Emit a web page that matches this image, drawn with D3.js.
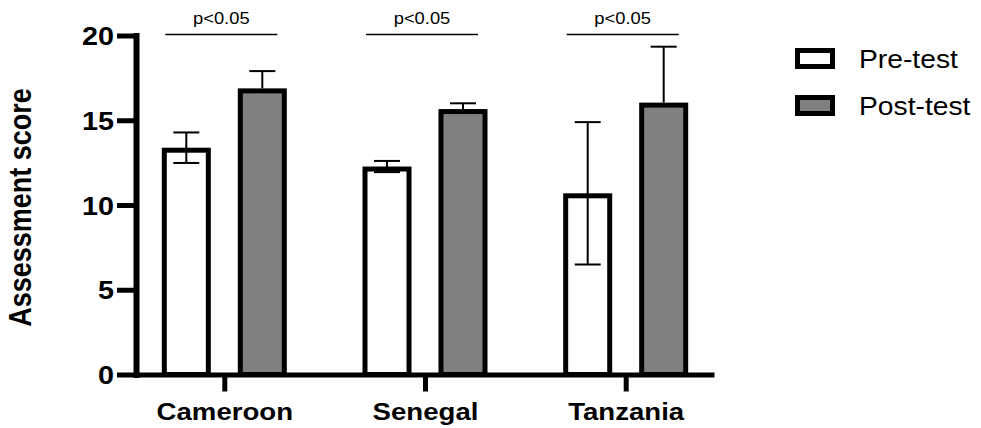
<!DOCTYPE html>
<html>
<head>
<meta charset="utf-8">
<script src="https://d3js.org/d3.v7.min.js"></script>
<style>
  body { margin: 0; background: #fff; }
  svg { display: block; font-family: "Liberation Sans", Arial, sans-serif; }
</style>
</head>
<body>
<div id="chart"></div>
<script>
// datos
const countries = ["Cameroon", "Senegal", "Tanzania"];
const groups = ["Pre-test", "Post-test"];
const preMean = [13.38, 12.27, 10.69];
const preSD = [0.9, 0.33, 4.2];
const postMean = [16.88, 15.66, 16.04];
const postSD = [1.02, 0.34, 3.3];
const yTicks = [0, 5, 10, 15, 20];
const sigLabels = ["p<0.05", "p<0.05", "p<0.05"];

const width = 981, height = 428;
const stretch = 1.15; // el original está algo estirado en horizontal

const svg = d3.select("#chart").append("svg")
  .attr("width", width)
  .attr("height", height);

// escalas
const y = d3.scaleLinear().domain([0, 20]).range([374.5, 35.5]);
const x = d3.scalePoint().domain(countries).range([136, 714]).padding(0.44);
const sub = d3.scaleBand().domain(groups).range([-62.5, 62.5]).paddingInner(0.355);
const fills = { "Pre-test": "#ffffff", "Post-test": "#808080" };

const rows = [];
countries.forEach((c, i) => {
  rows.push({ c: c, g: "Pre-test", v: preMean[i], e: preSD[i], down: true });
  rows.push({ c: c, g: "Post-test", v: postMean[i], e: postSD[i], down: false });
});

// barras (borde por dentro)
const sw = 5;
svg.append("g").selectAll("rect")
  .data(rows)
  .enter().append("rect")
  .attr("x", d => x(d.c) + sub(d.g) + sw / 2)
  .attr("width", sub.bandwidth() - sw)
  .attr("y", d => y(d.v) + sw / 2)
  .attr("height", d => y(0) - y(d.v) - sw / 2)
  .attr("fill", d => fills[d.g])
  .attr("stroke", "#000")
  .attr("stroke-width", sw);

// barras de error
const capW = 26;
const err = svg.append("g").attr("stroke", "#000").attr("stroke-width", 2);
rows.forEach(d => {
  const cx = x(d.c) + sub(d.g) + sub.bandwidth() / 2;
  const lo = d.down ? d.v - d.e : d.v;
  err.append("line")
    .attr("x1", cx).attr("x2", cx)
    .attr("y1", y(lo)).attr("y2", y(d.v + d.e));
  err.append("line")
    .attr("x1", cx - capW / 2).attr("x2", cx + capW / 2)
    .attr("y1", y(d.v + d.e)).attr("y2", y(d.v + d.e));
  if (d.down) {
    err.append("line")
      .attr("x1", cx - capW / 2).attr("x2", cx + capW / 2)
      .attr("y1", y(lo)).attr("y2", y(lo));
  }
});

// eje Y
const yAxis = svg.append("g")
  .attr("transform", `translate(${x.range()[0]},0)`)
  .call(d3.axisLeft(y).tickValues(yTicks).tickSize(19).tickSizeOuter(0).tickPadding(4));
yAxis.select(".domain").attr("stroke-width", 6).attr("stroke-linecap", "square");
yAxis.selectAll(".tick line").attr("stroke-width", 5);
yAxis.selectAll(".tick text")
  .attr("x", null).attr("dy", null)
  .attr("transform", `translate(-22,9) scale(${stretch},1)`)
  .attr("font-size", 25).attr("font-weight", "bold")
  .attr("font-family", "Liberation Sans, Arial, sans-serif")
  .attr("fill", "#000");

// eje X
const xAxis = svg.append("g")
  .attr("transform", `translate(0,${y(0)})`)
  .call(d3.axisBottom(x).tickSize(17).tickSizeOuter(0));
xAxis.select(".domain").attr("stroke-width", 5);
xAxis.selectAll(".tick line").attr("stroke-width", 5);
xAxis.selectAll(".tick text")
  .attr("y", null).attr("dy", null)
  .attr("transform", `translate(0,45.5) scale(${stretch},1)`)
  .attr("font-size", 24).attr("font-weight", "bold")
  .attr("font-family", "Liberation Sans, Arial, sans-serif")
  .attr("fill", "#000");

// título del eje Y
svg.append("text")
  .attr("transform", `translate(31,207.5) scale(${stretch},1) rotate(-90)`)
  .attr("text-anchor", "middle")
  .attr("font-size", 27)
  .attr("font-weight", "bold")
  .text("Assessment score");

// líneas de significancia
countries.forEach((c, i) => {
  const x0 = x(c) - 59, x1 = x(c) + 53;
  svg.append("line")
    .attr("x1", x0).attr("x2", x1)
    .attr("y1", y(20) - 1).attr("y2", y(20) - 1)
    .attr("stroke", "#000").attr("stroke-width", 1.5);
  svg.append("text")
    .attr("transform", `translate(${(x0 + x1) / 2},23.5) scale(1.08,1)`)
    .attr("text-anchor", "middle")
    .attr("font-size", 17)
    .text(sigLabels[i]);
});

// leyenda
const legend = svg.append("g");
groups.forEach((g, i) => {
  const top = 48 + i * 47;
  legend.append("rect")
    .attr("x", 795 + sw / 2).attr("y", top + sw / 2)
    .attr("width", 40 - sw).attr("height", 21 - sw)
    .attr("fill", fills[g]).attr("stroke", "#000").attr("stroke-width", sw);
  legend.append("text")
    .attr("transform", `translate(859,${top + 19.5}) scale(1.13,1)`)
    .attr("font-size", 25)
    .text(g);
});
</script>
</body>
</html>
